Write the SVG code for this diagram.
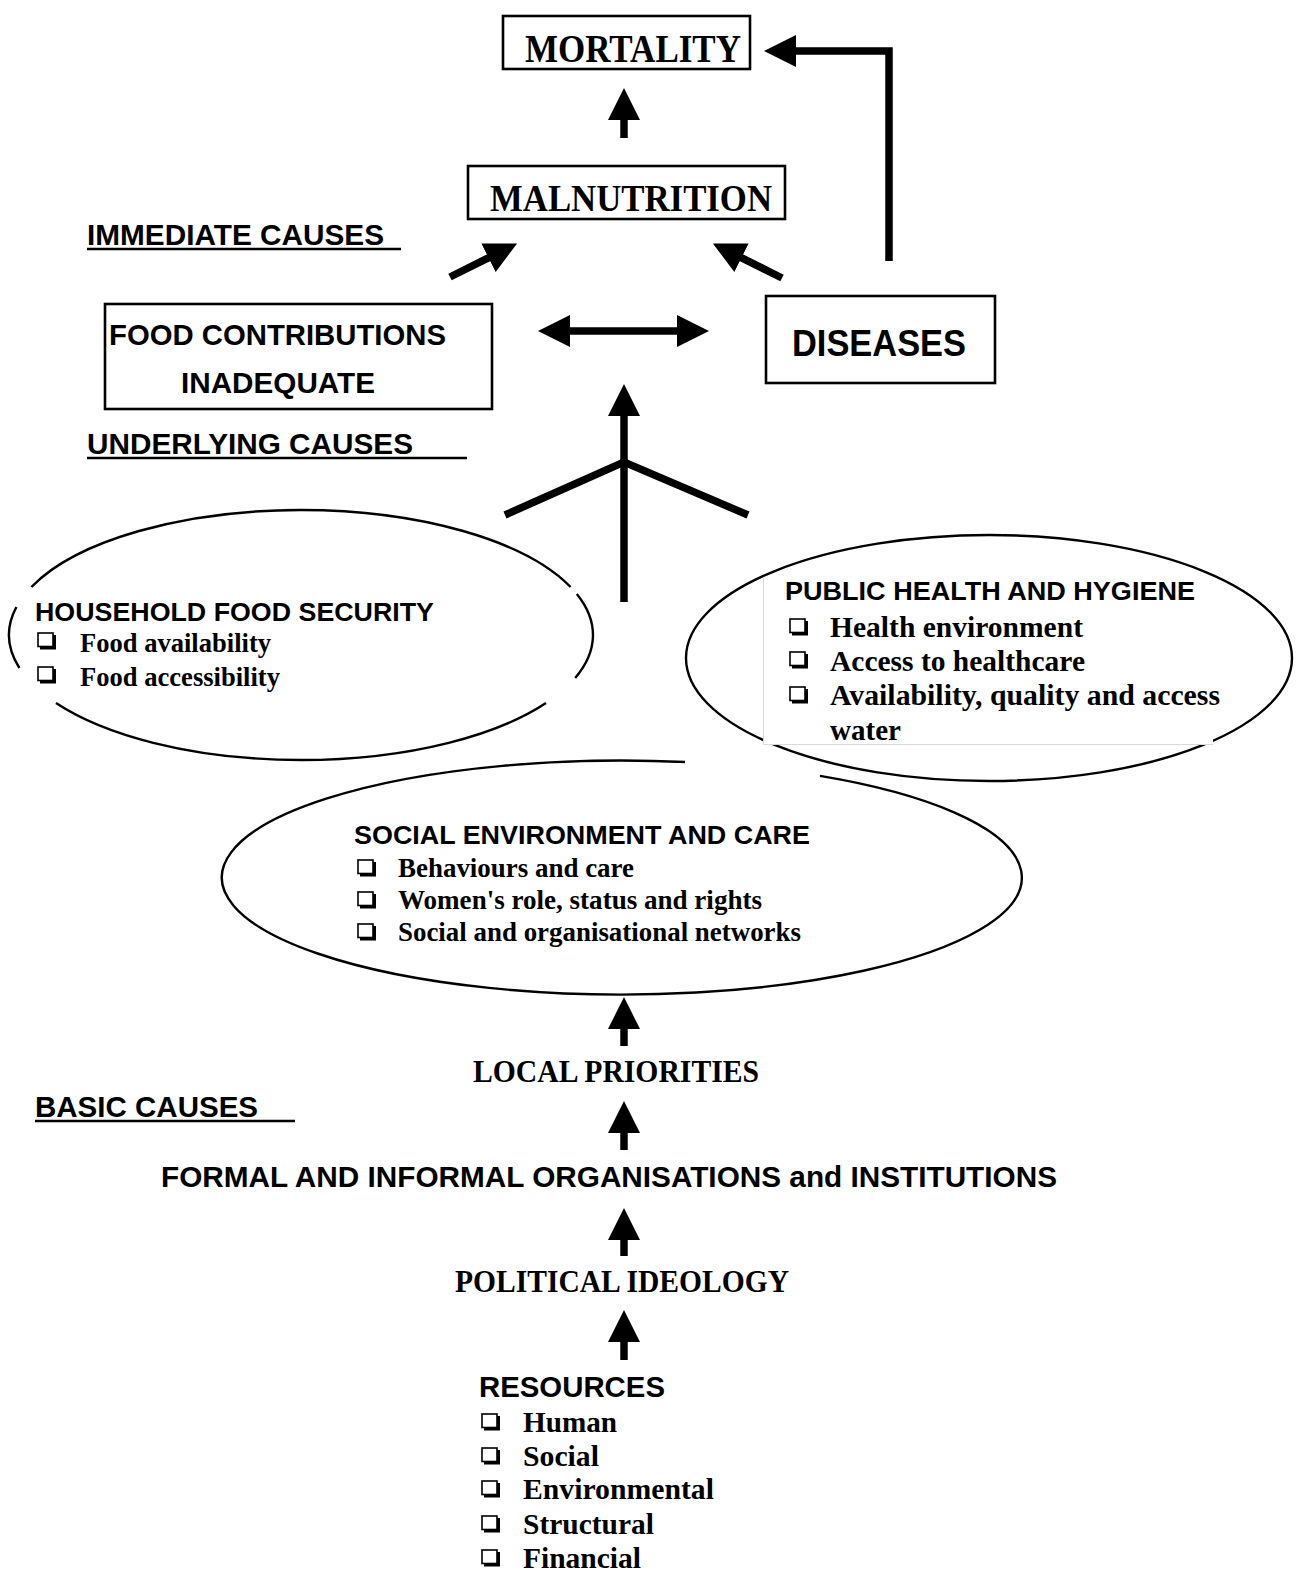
<svg xmlns="http://www.w3.org/2000/svg" xmlns:xlink="http://www.w3.org/1999/xlink" width="1302" height="1584" viewBox="0 0 1302 1584">
<style>
.box{fill:#fff;stroke:#000;stroke-width:2.6}
.ell{fill:none;stroke:#000;stroke-width:2.4}
.con{fill:none;stroke:#000;stroke-width:7.5;stroke-linejoin:miter}
.serif{font-family:"Liberation Serif","Times New Roman",serif;font-weight:bold;fill:#000}
.sans{font-family:"Liberation Sans",Arial,sans-serif;font-weight:bold;fill:#000}
.ul{stroke:#000;stroke-width:2.6}
.faint{stroke:#d9d9d9;stroke-width:1;fill:none}
</style>
<defs>
<marker id="ah" viewBox="0 0 32 32" refX="1" refY="16" markerWidth="32" markerHeight="32" markerUnits="userSpaceOnUse" orient="auto-start-reverse">
<path d="M0,0 L32,16 L0,32 z" fill="#000"/>
</marker>
<symbol id="cb" viewBox="0 0 20 18">
<rect x="1" y="1" width="15" height="13.5" fill="#fff" stroke="#000" stroke-width="1.6"/>
<path d="M3,16 H17.5 V3" fill="none" stroke="#000" stroke-width="3"/>
</symbol>
</defs>
<rect width="1302" height="1584" fill="#fff"/>

<!-- ellipses -->
<g id="household">
<path class="ell" d="M31.4,587 A292 125 0 0 1 570.6,587"/>
<path class="ell" d="M16.4,607 A292 125 0 0 0 19.4,668"/>
<path class="ell" d="M576.8,594 A292 125 0 0 1 575.2,678"/>
<path class="ell" d="M546,703 A292 125 0 0 1 56,703"/>
<text class="sans" x="35" y="621" font-size="26" textLength="399" lengthAdjust="spacingAndGlyphs">HOUSEHOLD FOOD SECURITY</text>
<use xlink:href="#cb" x="37" y="632" width="20" height="18"/>
<use xlink:href="#cb" x="37" y="666" width="20" height="18"/>
<text class="serif" x="80" y="652" font-size="27.5" textLength="191" lengthAdjust="spacingAndGlyphs">Food availability</text>
<text class="serif" x="80" y="686" font-size="27.5" textLength="200" lengthAdjust="spacingAndGlyphs">Food accessibility</text>
</g>

<g id="social">
<path class="ell" d="M685,762 A400 117 0 1 0 820,775.9"/>
<text class="sans" x="354" y="844" font-size="26.5" textLength="456" lengthAdjust="spacingAndGlyphs">SOCIAL ENVIRONMENT AND CARE</text>
<use xlink:href="#cb" x="357" y="859" width="20" height="18"/>
<use xlink:href="#cb" x="357" y="891" width="20" height="18"/>
<use xlink:href="#cb" x="357" y="923" width="20" height="18"/>
<text class="serif" x="398" y="877" font-size="27.5" textLength="236" lengthAdjust="spacingAndGlyphs">Behaviours and care</text>
<text class="serif" x="398" y="909" font-size="27.5" textLength="364" lengthAdjust="spacingAndGlyphs">Women's role, status and rights</text>
<text class="serif" x="398" y="941" font-size="27.5" textLength="403" lengthAdjust="spacingAndGlyphs">Social and organisational networks</text>
</g>

<g id="publichealth">
<ellipse class="ell" cx="989" cy="658" rx="303" ry="123"/>
<rect x="763" y="578" width="450" height="167" fill="#fff"/>
<path class="faint" d="M763.5,578 V744.5 H1213"/>
<text class="sans" x="785" y="600" font-size="26.5" textLength="410" lengthAdjust="spacingAndGlyphs">PUBLIC HEALTH AND HYGIENE</text>
<use xlink:href="#cb" x="789" y="618" width="20" height="18"/>
<use xlink:href="#cb" x="789" y="651" width="20" height="18"/>
<use xlink:href="#cb" x="789" y="686" width="20" height="18"/>
<text class="serif" x="830" y="637" font-size="30" textLength="253" lengthAdjust="spacingAndGlyphs">Health environment</text>
<text class="serif" x="830" y="671" font-size="30" textLength="255" lengthAdjust="spacingAndGlyphs">Access to healthcare</text>
<text class="serif" x="830" y="705" font-size="30" textLength="390" lengthAdjust="spacingAndGlyphs">Availability, quality and access</text>
<text class="serif" x="830" y="740" font-size="30" textLength="71" lengthAdjust="spacingAndGlyphs">water</text>
</g>

<!-- boxes -->
<g id="mortality">
<rect class="box" x="503" y="16" width="247" height="53"/>
<text class="serif" x="525" y="62" font-size="40" textLength="216" lengthAdjust="spacingAndGlyphs">MORTALITY</text>
</g>
<g id="malnutrition">
<rect class="box" x="468" y="166" width="317" height="53"/>
<text class="serif" x="490" y="211" font-size="38" textLength="282" lengthAdjust="spacingAndGlyphs">MALNUTRITION</text>
</g>
<g id="food">
<rect class="box" x="105" y="304" width="387" height="105"/>
<text class="sans" x="109" y="345" font-size="29.5" textLength="337" lengthAdjust="spacingAndGlyphs">FOOD CONTRIBUTIONS</text>
<text class="sans" x="181" y="393" font-size="29.5" textLength="194" lengthAdjust="spacingAndGlyphs">INADEQUATE</text>
</g>
<g id="diseases">
<rect class="box" x="766" y="296" width="229" height="87"/>
<text class="sans" x="792" y="356" font-size="36" textLength="174" lengthAdjust="spacingAndGlyphs">DISEASES</text>
</g>

<!-- section labels -->
<g id="label-immediate">
<text class="sans" x="87" y="245" font-size="29.5" textLength="297" lengthAdjust="spacingAndGlyphs">IMMEDIATE CAUSES</text>
<line class="ul" x1="87" y1="249" x2="401" y2="249"/>
</g>
<g id="label-underlying">
<text class="sans" x="87" y="454" font-size="29.5" textLength="326" lengthAdjust="spacingAndGlyphs">UNDERLYING CAUSES</text>
<line class="ul" x1="87" y1="458" x2="467" y2="458"/>
</g>
<g id="label-basic">
<text class="sans" x="35" y="1117" font-size="29.5" textLength="223" lengthAdjust="spacingAndGlyphs">BASIC CAUSES</text>
<line class="ul" x1="35" y1="1121" x2="295" y2="1121"/>
</g>

<g id="local">
<text class="serif" x="473" y="1082" font-size="31" textLength="286" lengthAdjust="spacingAndGlyphs">LOCAL PRIORITIES</text>
</g>
<g id="formal">
<text class="sans" x="161" y="1187" font-size="29" textLength="896" lengthAdjust="spacingAndGlyphs">FORMAL AND INFORMAL ORGANISATIONS and INSTITUTIONS</text>
</g>
<g id="political">
<text class="serif" x="455" y="1292" font-size="31" textLength="334" lengthAdjust="spacingAndGlyphs">POLITICAL IDEOLOGY</text>
</g>
<g id="resources">
<text class="sans" x="479" y="1397" font-size="29" textLength="186" lengthAdjust="spacingAndGlyphs">RESOURCES</text>
<use xlink:href="#cb" x="481" y="1413" width="20" height="18"/>
<use xlink:href="#cb" x="481" y="1447" width="20" height="18"/>
<use xlink:href="#cb" x="481" y="1480" width="20" height="18"/>
<use xlink:href="#cb" x="481" y="1515" width="20" height="18"/>
<use xlink:href="#cb" x="481" y="1549" width="20" height="18"/>
<text class="serif" x="523" y="1432" font-size="29" textLength="94" lengthAdjust="spacingAndGlyphs">Human</text>
<text class="serif" x="523" y="1466" font-size="29" textLength="76" lengthAdjust="spacingAndGlyphs">Social</text>
<text class="serif" x="523" y="1499" font-size="29" textLength="191" lengthAdjust="spacingAndGlyphs">Environmental</text>
<text class="serif" x="523" y="1534" font-size="29" textLength="131" lengthAdjust="spacingAndGlyphs">Structural</text>
<text class="serif" x="523" y="1568" font-size="29" textLength="118" lengthAdjust="spacingAndGlyphs">Financial</text>
</g>

<!-- connectors -->
<g id="connectors">
<line class="con" x1="624" y1="138" x2="624" y2="119" marker-end="url(#ah)"/>
<polyline class="con" points="889,261 889,51 795,51" marker-end="url(#ah)"/>
<line class="con" x1="450" y1="277" x2="489.4" y2="257.3" marker-end="url(#ah)"/>
<line class="con" x1="782" y1="278" x2="740.6" y2="257.3" marker-end="url(#ah)"/>
<line class="con" x1="569" y1="331" x2="678" y2="331" stroke-width="6.5" marker-start="url(#ah)" marker-end="url(#ah)"/>
<polyline class="con" points="505,515 624,462 748,515"/>
<line class="con" x1="624" y1="602" x2="624" y2="415" marker-end="url(#ah)"/>
<line class="con" x1="624" y1="1046" x2="624" y2="1028" marker-end="url(#ah)"/>
<line class="con" x1="624" y1="1150" x2="624" y2="1132" marker-end="url(#ah)"/>
<line class="con" x1="624" y1="1256" x2="624" y2="1239" marker-end="url(#ah)"/>
<line class="con" x1="624" y1="1360" x2="624" y2="1341" marker-end="url(#ah)"/>
</g>
</svg>
